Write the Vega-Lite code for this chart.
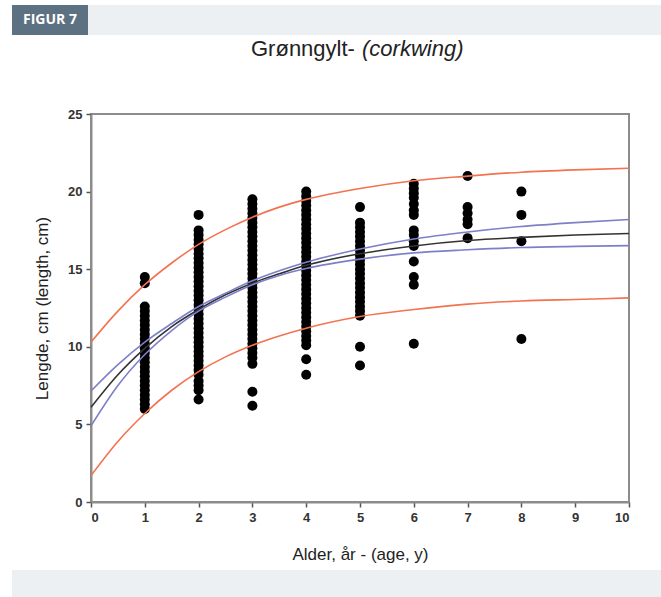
{
"$schema": "https://vega.github.io/schema/vega-lite/v6.json",
"background": "white",
"padding": {"left": 12, "top": 5, "right": 0, "bottom": 0},
"spacing": 1,
"config": {"font": "Liberation Sans", "view": {"stroke": null}},
"vconcat": [
 {"hconcat": [
   {"width": 76, "height": 30, "view": {"fill": "#5c7181", "stroke": null},
    "data": {"values": [{"t": "FIGUR 7"}]},
    "mark": {"type": "text", "color": "white", "font": "Open Sans", "fontWeight": "bold", "fontSize": 14},
    "encoding": {"text": {"field": "t", "type": "nominal"}}},
   {"width": 573, "height": 30, "view": {"fill": "#ecf0f3", "stroke": null},
    "data": {"values": [{"t": ""}]},
    "mark": {"type": "text"},
    "encoding": {"text": {"field": "t", "type": "nominal"}}}
 ], "spacing": 0},
 {"title": {"text": "(corkwing)", "anchor": "start", "align": "left", "dx": 350, "dy": -3, "frame": "group",
    "font": "Liberation Sans", "fontSize": 22, "fontStyle": "italic", "fontWeight": "normal", "color": "#222", "offset": -27},
  "hconcat": [
  {"width": 20, "height": 388,
   "data": {"values": [{"t": ""}]},
   "mark": {"type": "text"},
   "encoding": {"text": {"field": "t", "type": "nominal"}}},
  {
  "width": 538, "height": 388,
  "view": {"stroke": "#8c8c8c", "strokeWidth": 2},
  "title": {"text": "Grønngylt-", "anchor": "middle", "align": "left", "dx": -109, "dy": -3,
    "font": "Liberation Sans", "fontSize": 22, "fontWeight": "normal", "color": "#222", "offset": 44.3},
  "encoding": {
   "x": {"field": "age", "type": "quantitative", "scale": {"domain": [0, 10], "nice": false},
     "axis": {"values": [0,1,2,3,4,5,6,7,8,9,10], "title": ["Alder, år - (age, y)", ""], "grid": false,
       "domainColor": "#8c8c8c", "domainWidth": 2, "tickColor": "#555", "tickWidth": 1.5, "tickSize": 5,
       "labelFont": "Liberation Sans", "labelFontSize": 13, "labelFontWeight": "bold", "labelColor": "#333", "labelPadding": 4,
       "titleFont": "Liberation Sans", "titleFontSize": 17, "titleFontWeight": "normal", "titleColor": "#222", "titlePadding": 22, "titleLineHeight": 6}},
   "y": {"field": "length", "type": "quantitative", "scale": {"domain": [0, 25], "nice": false},
     "axis": {"values": [0,5,10,15,20,25], "title": "Lengde, cm (length, cm)", "grid": false,
       "domainColor": "#8c8c8c", "domainWidth": 2, "tickColor": "#555", "tickWidth": 1.5, "tickSize": 5,
       "labelFont": "Liberation Sans", "labelFontSize": 13, "labelFontWeight": "bold", "labelColor": "#333", "labelPadding": 4,
       "titleFont": "Liberation Sans", "titleFontSize": 17, "titleFontWeight": "normal", "titleColor": "#222", "titlePadding": 16}}
  },
  "layer": [
   {"data": {"values": [
{"age":1,"length":14.5},{"age":1,"length":14.1},{"age":1,"length":12.6},{"age":1,"length":12.3},{"age":1,"length":12.0},{"age":1,"length":11.7},{"age":1,"length":11.4},{"age":1,"length":11.1},{"age":1,"length":10.8},{"age":1,"length":10.5},{"age":1,"length":10.2},{"age":1,"length":9.9},{"age":1,"length":9.6},{"age":1,"length":9.3},{"age":1,"length":9.0},{"age":1,"length":8.7},{"age":1,"length":8.4},{"age":1,"length":8.1},{"age":1,"length":7.8},{"age":1,"length":7.5},{"age":1,"length":7.2},{"age":1,"length":6.9},{"age":1,"length":6.6},{"age":1,"length":6.3},{"age":1,"length":6.0},
{"age":2,"length":18.5},{"age":2,"length":17.5},{"age":2,"length":17.2},{"age":2,"length":16.9},{"age":2,"length":16.6},{"age":2,"length":16.3},{"age":2,"length":16.0},{"age":2,"length":15.7},{"age":2,"length":15.4},{"age":2,"length":15.1},{"age":2,"length":14.8},{"age":2,"length":14.5},{"age":2,"length":14.2},{"age":2,"length":13.9},{"age":2,"length":13.6},{"age":2,"length":13.3},{"age":2,"length":13.0},{"age":2,"length":12.7},{"age":2,"length":12.4},{"age":2,"length":12.1},{"age":2,"length":11.8},{"age":2,"length":11.5},{"age":2,"length":11.2},{"age":2,"length":10.9},{"age":2,"length":10.6},{"age":2,"length":10.3},{"age":2,"length":10.0},{"age":2,"length":9.7},{"age":2,"length":9.4},{"age":2,"length":9.1},{"age":2,"length":8.8},{"age":2,"length":8.5},{"age":2,"length":8.2},{"age":2,"length":7.8},{"age":2,"length":7.5},{"age":2,"length":7.2},{"age":2,"length":6.6},
{"age":3,"length":19.5},{"age":3,"length":19.2},{"age":3,"length":18.9},{"age":3,"length":18.6},{"age":3,"length":18.3},{"age":3,"length":18.0},{"age":3,"length":17.7},{"age":3,"length":17.4},{"age":3,"length":17.1},{"age":3,"length":16.8},{"age":3,"length":16.5},{"age":3,"length":16.2},{"age":3,"length":15.9},{"age":3,"length":15.6},{"age":3,"length":15.3},{"age":3,"length":15.0},{"age":3,"length":14.7},{"age":3,"length":14.4},{"age":3,"length":14.1},{"age":3,"length":13.8},{"age":3,"length":13.5},{"age":3,"length":13.2},{"age":3,"length":12.9},{"age":3,"length":12.6},{"age":3,"length":12.3},{"age":3,"length":12.0},{"age":3,"length":11.7},{"age":3,"length":11.4},{"age":3,"length":11.1},{"age":3,"length":10.8},{"age":3,"length":10.5},{"age":3,"length":10.2},{"age":3,"length":9.9},{"age":3,"length":9.6},{"age":3,"length":9.3},{"age":3,"length":8.9},{"age":3,"length":7.1},{"age":3,"length":6.2},
{"age":4,"length":20.0},{"age":4,"length":19.7},{"age":4,"length":19.4},{"age":4,"length":19.1},{"age":4,"length":18.8},{"age":4,"length":18.5},{"age":4,"length":18.2},{"age":4,"length":17.9},{"age":4,"length":17.6},{"age":4,"length":17.3},{"age":4,"length":17.0},{"age":4,"length":16.7},{"age":4,"length":16.4},{"age":4,"length":16.1},{"age":4,"length":15.8},{"age":4,"length":15.5},{"age":4,"length":15.2},{"age":4,"length":14.9},{"age":4,"length":14.6},{"age":4,"length":14.3},{"age":4,"length":14.0},{"age":4,"length":13.7},{"age":4,"length":13.4},{"age":4,"length":13.1},{"age":4,"length":12.8},{"age":4,"length":12.5},{"age":4,"length":12.2},{"age":4,"length":11.9},{"age":4,"length":11.6},{"age":4,"length":11.3},{"age":4,"length":11.0},{"age":4,"length":10.7},{"age":4,"length":10.4},{"age":4,"length":10.1},{"age":4,"length":9.2},{"age":4,"length":8.2},
{"age":5,"length":19.0},{"age":5,"length":18.0},{"age":5,"length":17.7},{"age":5,"length":17.4},{"age":5,"length":17.1},{"age":5,"length":16.8},{"age":5,"length":16.5},{"age":5,"length":16.2},{"age":5,"length":15.9},{"age":5,"length":15.6},{"age":5,"length":15.3},{"age":5,"length":15.0},{"age":5,"length":14.7},{"age":5,"length":14.4},{"age":5,"length":14.1},{"age":5,"length":13.8},{"age":5,"length":13.5},{"age":5,"length":13.2},{"age":5,"length":12.9},{"age":5,"length":12.6},{"age":5,"length":12.3},{"age":5,"length":12.0},{"age":5,"length":10.0},{"age":5,"length":8.8},
{"age":6,"length":20.5},{"age":6,"length":20.2},{"age":6,"length":19.9},{"age":6,"length":19.6},{"age":6,"length":19.2},{"age":6,"length":18.8},{"age":6,"length":18.5},{"age":6,"length":17.5},{"age":6,"length":17.2},{"age":6,"length":16.8},{"age":6,"length":16.5},{"age":6,"length":15.5},{"age":6,"length":14.5},{"age":6,"length":14.0},{"age":6,"length":10.2},
{"age":7,"length":21.0},{"age":7,"length":19.0},{"age":7,"length":18.6},{"age":7,"length":18.2},{"age":7,"length":17.9},{"age":7,"length":17.0},
{"age":8,"length":20.0},{"age":8,"length":18.5},{"age":8,"length":16.8},{"age":8,"length":10.5}
   ]},
    "mark": {"type": "circle", "size": 100, "color": "black", "opacity": 1}},
   {"data": {"values": [
{"age":0,"length":6.1,"curve":"fit","kind":"fit"},{"age":0.5,"length":8.2,"curve":"fit","kind":"fit"},{"age":1,"length":9.9,"curve":"fit","kind":"fit"},{"age":1.5,"length":11.3,"curve":"fit","kind":"fit"},{"age":2,"length":12.4,"curve":"fit","kind":"fit"},{"age":2.5,"length":13.35,"curve":"fit","kind":"fit"},{"age":3,"length":14.1,"curve":"fit","kind":"fit"},{"age":3.5,"length":14.7,"curve":"fit","kind":"fit"},{"age":4,"length":15.25,"curve":"fit","kind":"fit"},{"age":5,"length":16.0,"curve":"fit","kind":"fit"},{"age":6,"length":16.5,"curve":"fit","kind":"fit"},{"age":7,"length":16.85,"curve":"fit","kind":"fit"},{"age":8,"length":17.05,"curve":"fit","kind":"fit"},{"age":9,"length":17.2,"curve":"fit","kind":"fit"},{"age":10,"length":17.3,"curve":"fit","kind":"fit"},
{"age":0,"length":7.15,"curve":"cu","kind":"ci"},{"age":0.5,"length":8.85,"curve":"cu","kind":"ci"},{"age":1,"length":10.3,"curve":"cu","kind":"ci"},{"age":1.5,"length":11.5,"curve":"cu","kind":"ci"},{"age":2,"length":12.6,"curve":"cu","kind":"ci"},{"age":2.5,"length":13.45,"curve":"cu","kind":"ci"},{"age":3,"length":14.25,"curve":"cu","kind":"ci"},{"age":3.5,"length":14.9,"curve":"cu","kind":"ci"},{"age":4,"length":15.45,"curve":"cu","kind":"ci"},{"age":5,"length":16.3,"curve":"cu","kind":"ci"},{"age":6,"length":16.95,"curve":"cu","kind":"ci"},{"age":7,"length":17.4,"curve":"cu","kind":"ci"},{"age":8,"length":17.75,"curve":"cu","kind":"ci"},{"age":9,"length":18.0,"curve":"cu","kind":"ci"},{"age":10,"length":18.2,"curve":"cu","kind":"ci"},
{"age":0,"length":4.9,"curve":"cl","kind":"ci"},{"age":0.5,"length":7.5,"curve":"cl","kind":"ci"},{"age":1,"length":9.5,"curve":"cl","kind":"ci"},{"age":1.5,"length":11.05,"curve":"cl","kind":"ci"},{"age":2,"length":12.3,"curve":"cl","kind":"ci"},{"age":2.5,"length":13.2,"curve":"cl","kind":"ci"},{"age":3,"length":14.0,"curve":"cl","kind":"ci"},{"age":3.5,"length":14.6,"curve":"cl","kind":"ci"},{"age":4,"length":15.05,"curve":"cl","kind":"ci"},{"age":5,"length":15.65,"curve":"cl","kind":"ci"},{"age":6,"length":16.05,"curve":"cl","kind":"ci"},{"age":7,"length":16.25,"curve":"cl","kind":"ci"},{"age":8,"length":16.4,"curve":"cl","kind":"ci"},{"age":9,"length":16.47,"curve":"cl","kind":"ci"},{"age":10,"length":16.52,"curve":"cl","kind":"ci"},
{"age":0,"length":10.3,"curve":"pu","kind":"pi"},{"age":0.5,"length":12.3,"curve":"pu","kind":"pi"},{"age":1,"length":14.0,"curve":"pu","kind":"pi"},{"age":1.5,"length":15.4,"curve":"pu","kind":"pi"},{"age":2,"length":16.6,"curve":"pu","kind":"pi"},{"age":2.5,"length":17.55,"curve":"pu","kind":"pi"},{"age":3,"length":18.35,"curve":"pu","kind":"pi"},{"age":3.5,"length":19.0,"curve":"pu","kind":"pi"},{"age":4,"length":19.5,"curve":"pu","kind":"pi"},{"age":5,"length":20.2,"curve":"pu","kind":"pi"},{"age":6,"length":20.7,"curve":"pu","kind":"pi"},{"age":7,"length":21.0,"curve":"pu","kind":"pi"},{"age":8,"length":21.25,"curve":"pu","kind":"pi"},{"age":9,"length":21.4,"curve":"pu","kind":"pi"},{"age":10,"length":21.5,"curve":"pu","kind":"pi"},
{"age":0,"length":1.7,"curve":"pl","kind":"pi"},{"age":0.5,"length":3.9,"curve":"pl","kind":"pi"},{"age":1,"length":5.7,"curve":"pl","kind":"pi"},{"age":1.5,"length":7.2,"curve":"pl","kind":"pi"},{"age":2,"length":8.4,"curve":"pl","kind":"pi"},{"age":2.5,"length":9.35,"curve":"pl","kind":"pi"},{"age":3,"length":10.1,"curve":"pl","kind":"pi"},{"age":3.5,"length":10.7,"curve":"pl","kind":"pi"},{"age":4,"length":11.2,"curve":"pl","kind":"pi"},{"age":5,"length":11.95,"curve":"pl","kind":"pi"},{"age":6,"length":12.4,"curve":"pl","kind":"pi"},{"age":7,"length":12.75,"curve":"pl","kind":"pi"},{"age":8,"length":12.95,"curve":"pl","kind":"pi"},{"age":9,"length":13.05,"curve":"pl","kind":"pi"},{"age":10,"length":13.15,"curve":"pl","kind":"pi"}
   ]},
    "mark": {"type": "line", "strokeWidth": 1.6, "interpolate": "monotone"},
    "encoding": {
     "color": {"field": "kind", "type": "nominal", "scale": {"domain": ["pi", "ci", "fit"], "range": ["#f3724f", "#7c80c8", "#333333"]}, "legend": null},
     "detail": {"field": "curve", "type": "nominal"}
    }}
  ]
  }
 ], "spacing": 0},
 {"width": 649, "height": 27, "view": {"fill": "#ecf0f3", "stroke": null},
  "data": {"values": [{"t": ""}]},
  "mark": {"type": "text"},
  "encoding": {"text": {"field": "t", "type": "nominal"}}}
]
}
